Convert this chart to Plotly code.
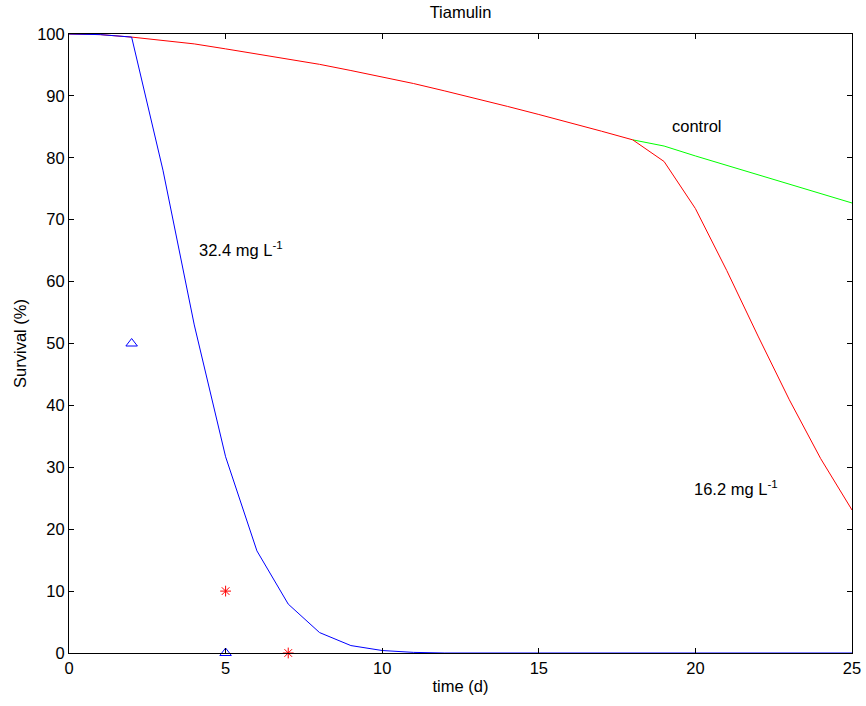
import plotly.graph_objects as go

days = list(range(0, 26))
conc_32 = [100, 99.9, 99.5, 78, 53, 31.7, 16.5, 7.9, 3.3, 1.2, 0.4, 0.1, 0,
           0, 0, 0, 0, 0, 0, 0, 0, 0, 0, 0, 0, 0]
conc_16 = [100, 99.9, 99.5, 99.0, 98.4, 97.6, 96.8, 96.0, 95.1, 94.1, 93.1,
           92.0, 90.8, 89.6, 88.3, 87.0, 85.7, 84.3, 82.9, 79.4, 71.8, 61.8,
           51.2, 40.9, 31.4, 23.1]
ctrl_days = [18, 19, 20, 21, 22, 23, 24, 25]
control = [82.9, 81.9, 80.3, 78.8, 77.3, 75.8, 74.3, 72.7]

obs32_x = [2, 5]
obs32_y = [50, 0]
obs16_x = [5, 7]
obs16_y = [10, 0]

FONT = "Liberation Sans, Arial, Helvetica, sans-serif"
FS = 16.5

fig = go.Figure()
fig.add_trace(go.Scatter(x=ctrl_days, y=control, mode="lines",
                         line=dict(color="#00ff00", width=1), showlegend=False))
fig.add_trace(go.Scatter(x=days, y=conc_16, mode="lines",
                         line=dict(color="#ff0000", width=1), showlegend=False))
fig.add_trace(go.Scatter(x=days, y=conc_32, mode="lines",
                         line=dict(color="#0000ff", width=1), showlegend=False, cliponaxis=False))
fig.add_trace(go.Scatter(x=obs32_x, y=obs32_y, mode="markers",
                         marker=dict(symbol="triangle-up-open", size=10, color="#0000ff",
                                     line=dict(width=1)),
                         showlegend=False, cliponaxis=False))
fig.add_trace(go.Scatter(x=obs16_x, y=obs16_y, mode="markers",
                         marker=dict(symbol="asterisk-open", size=9, color="#ff0000",
                                     line=dict(width=1, color="#ff0000")),
                         showlegend=False, cliponaxis=False))

fig.add_annotation(x=4.1, y=65.3, text="32.4 mg L<sup>-1</sup>", showarrow=False,
                   xanchor="left", font=dict(size=FS, color="black", family=FONT))
fig.add_annotation(x=19.2, y=85.2, text="control", showarrow=False,
                   xanchor="left", font=dict(size=FS, color="black", family=FONT))
fig.add_annotation(x=19.9, y=26.6, text="16.2 mg L<sup>-1</sup>", showarrow=False,
                   xanchor="left", font=dict(size=FS, color="black", family=FONT))

axis_common = dict(showline=True, linecolor="black", linewidth=1, mirror="allticks",
                   ticks="inside", ticklen=5, tickcolor="black", showgrid=False,
                   zeroline=False, automargin=False,
                   tickfont=dict(size=FS, color="black", family=FONT))

fig.update_xaxes(range=[0, 25], tickvals=[0, 5, 10, 15, 20, 25],
                 title=dict(text="time (d)", font=dict(size=FS, color="black", family=FONT),
                            standoff=4),
                 **axis_common)
fig.update_yaxes(range=[0, 100], tickvals=list(range(0, 101, 10)),
                 title=dict(text="Survival (%)", font=dict(size=FS, color="black", family=FONT),
                            standoff=6),
                 **axis_common)

fig.update_layout(
    width=866, height=706,
    margin=dict(l=69, r=14, t=34, b=53, autoexpand=False),
    paper_bgcolor="white", plot_bgcolor="white",
    title=dict(text="Tiamulin", x=0.5 * (69 + 852) / 866, xanchor="center",
               y=1 - 12 / 706, yanchor="middle",
               font=dict(size=FS, color="black", family=FONT)),
)

fig.write_html("out.html")
